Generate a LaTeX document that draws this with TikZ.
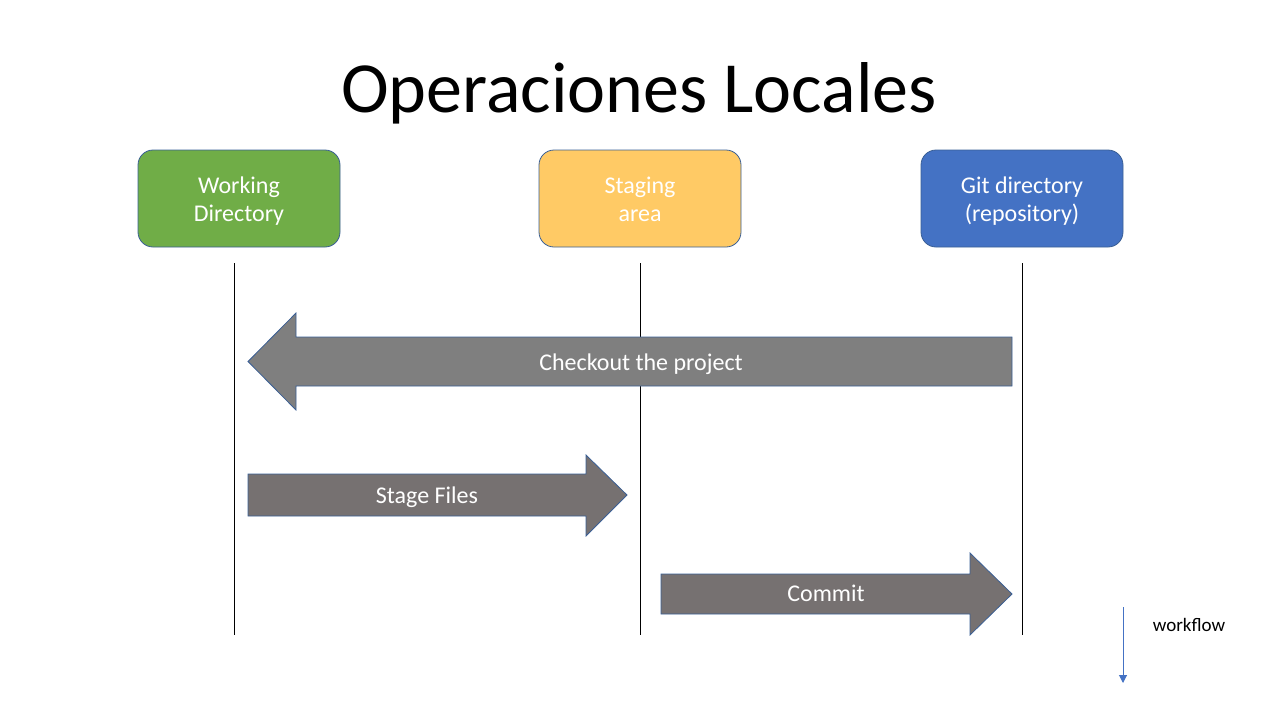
\documentclass[tikz,border=0pt]{standalone}
\usepackage{fontspec}
\setmainfont{Carlito}
\usetikzlibrary{positioning,arrows.meta}
\definecolor{wdgreen}{HTML}{70AD47}
\definecolor{sayellow}{HTML}{FFCA65}
\definecolor{gdblue}{HTML}{4472C4}
\definecolor{edgeblue}{HTML}{3A5F95}
\definecolor{outgray}{HTML}{7F7F7F}
\definecolor{ingray}{HTML}{767171}
\newcommand{\vstrut}{\rule[-2.7pt]{0pt}{14pt}}
\begin{document}
\begin{tikzpicture}[x=0.5pt,y=-0.5pt]
  \tikzstyle{box}=[rectangle, rounded corners=7.5pt, minimum width=101pt, minimum height=48.5pt, draw=edgeblue, line width=0.4pt, text=white, align=center, font=\fontsize{12}{14}\selectfont]
  \tikzstyle{lifeline}=[draw=black, line width=0.5pt]
  \tikzstyle{bigarrow}=[draw=edgeblue, line width=0.4pt]
  \tikzstyle{arrowtext}=[text=white, font=\fontsize{12}{14}\selectfont]
  \useasboundingbox (0,0) rectangle (1280,720);
    \node (title) at (639,93) {\fontsize{36}{40}\selectfont Operaciones Locales};
    \node[box, fill=wdgreen] (wd) at (239,198.5) {Working\vstrut\\Directory\vstrut};
    \node[box, fill=sayellow] (sa) at (640,198.5) {Staging\vstrut\\area\vstrut};
    \node[box, fill=gdblue] (gd) at (1022,198.5) {Git directory\vstrut\\(repository)\vstrut};
    % lifelines
    \foreach \x in {234,640,1022}
      \draw[lifeline] (\x,263) -- (\x,635);
    % operations
    \draw[bigarrow, fill=outgray] (1012,337) -- (296,337) -- (296,313) -- (248,361.5) -- (296,410) -- (296,386) -- (1012,386) -- cycle;
    \node[arrowtext] (checkout) at (641,361.5) {Checkout the project\vstrut};
    \draw[bigarrow, fill=ingray] (248,474) -- (586,474) -- (586,455) -- (627,495) -- (586,536) -- (586,516) -- (248,516) -- cycle;
    \node[arrowtext] (stage) at (427,495) {Stage Files\vstrut};
    \draw[bigarrow, fill=ingray] (661,574) -- (970,574) -- (970,553) -- (1012,594) -- (970,635) -- (970,614) -- (661,614) -- cycle;
    \node[arrowtext] (commit) at (826,593) {Commit\vstrut};
    \node[font=\fontsize{9.5}{11}\selectfont] (flow) at (1189,625) {workflow};
    \coordinate (flowtop) at (1123,607);
    \coordinate (flowend) at (1123,683);
    \draw[gdblue, line width=0.5pt, -{Triangle[length=4pt,width=4pt]}] (flowtop) -- (flowend);
\end{tikzpicture}
\end{document}
